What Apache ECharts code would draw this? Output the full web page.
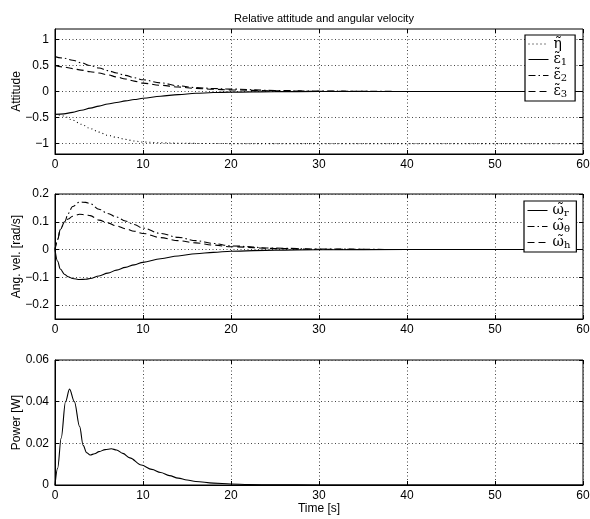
<!DOCTYPE html>
<html>
<head>
<meta charset="utf-8">
<script src="https://cdn.jsdelivr.net/npm/echarts@6/dist/echarts.min.js"></script>
<style>html,body{margin:0;padding:0;background:#fff}#c{width:590px;height:519px}</style>
</head>
<body>
<div id="c"></div>
<script>
// ---------- data ----------
const tAtt = [0,1,2,3,4,5,6,7,8,9,10,12,14,16,18,20,25,30,40,50,60];
const eta  = [-0.42,-0.47,-0.55,-0.63,-0.71,-0.78,-0.84,-0.88,-0.92,-0.95,-0.97,-0.985,-0.993,-0.997,-0.999,-1,-1,-1,-1,-1,-1];
const eps1 = [-0.44,-0.43,-0.40,-0.36,-0.32,-0.28,-0.24,-0.21,-0.18,-0.155,-0.13,-0.09,-0.06,-0.035,-0.02,-0.012,-0.003,-0.001,0,0,0];
const eps2 = [0.67,0.64,0.60,0.55,0.50,0.45,0.40,0.355,0.31,0.265,0.225,0.165,0.11,0.075,0.058,0.046,0.02,0.008,0.001,0,0];
const eps3 = [0.50,0.47,0.44,0.41,0.38,0.355,0.32,0.28,0.24,0.20,0.16,0.12,0.085,0.06,0.042,0.03,0.012,0.004,0,0,0];

const tVel = [0,0.3,0.6,1.1,1.5,2,2.8,3.5,4,5,6,7,8,9,10,12,14,16,18,20,25,30,40,60];
const wR   = [0,-0.042,-0.07,-0.09,-0.098,-0.104,-0.108,-0.107,-0.104,-0.095,-0.085,-0.074,-0.064,-0.055,-0.046,-0.033,-0.023,-0.015,-0.01,-0.006,-0.002,-0.0005,0,0];
const wTh  = [0,0.036,0.072,0.1,0.13,0.155,0.171,0.17,0.165,0.145,0.13,0.117,0.103,0.09,0.077,0.058,0.044,0.032,0.022,0.013,0.005,0.002,0,0];
const wH   = [0,0.036,0.072,0.1,0.11,0.12,0.127,0.125,0.122,0.106,0.096,0.085,0.075,0.066,0.058,0.043,0.032,0.024,0.016,0.01,0.004,0.001,0,0];

const tPow = [0,0.3,0.7,1.2,1.65,2.2,2.8,3.2,3.6,4.0,4.5,5.0,5.7,6.4,7.0,7.7,8.5,9.8,11,12,13,14,15,16,18,20,22,25,30,60];
const power= [0,0.008,0.0225,0.04,0.046,0.04,0.028,0.019,0.0155,0.0144,0.015,0.016,0.017,0.0174,0.0168,0.0152,0.013,0.0096,0.0075,0.006,0.0045,0.0033,0.0024,0.0017,0.0009,0.0005,0.0002,0.0001,0,0];

const xTicks  = [0,10,20,30,40,50,60];
const yTicks1 = [-1,-0.5,0,0.5,1];
const yTicks2 = [-0.2,-0.1,0,0.1,0.2];
const yTicks3 = [0,0.02,0.04,0.06];
const yRanges = [[-1.2,1.2],[-0.25,0.2],[0,0.06]];
const yNames  = ['Attitude','Ang. vel. [rad/s]','Power [W]'];

// ---------- build ----------
const pairs = (t, v) => t.map((x, i) => [x, v[i]]);
const FONT = 'Liberation Sans';
const gridTops = [29, 194, 360];
const grids = gridTops.map(t => ({left: 55, right: 7, top: t, height: 125, show: true, containLabel: false,
  outerBoundsMode: 'none', borderColor: '#000', borderWidth: 1, backgroundColor: 'transparent'}));
const fmt = v => String(v).replace('-', '\u2212');

const xAxis = [], yAxis = [];
const yTicksAll = [yTicks1, yTicks2, yTicks3];
for (let i = 0; i < 3; i++) {
  xAxis.push({type: 'value', gridIndex: i, min: 0, max: 60, position: 'bottom',
    axisLine: {show: true, onZero: false, lineStyle: {color: '#000'}},
    axisTick: {show: true, inside: true, length: 4, customValues: xTicks, lineStyle: {color: '#000'}},
    axisLabel: {show: true, margin: 5, customValues: xTicks, color: '#000', fontFamily: FONT, fontSize: 12},
    splitLine: {show: true, lineStyle: {type: [1, 2.5], color: '#444'}},
    name: i === 2 ? 'Time [s]' : '', nameLocation: 'middle', nameGap: 18, nameMoveOverlap: false,
    nameTextStyle: {color: '#000', fontFamily: FONT, fontSize: 12}});
  xAxis.push({type: 'value', gridIndex: i, min: 0, max: 60, position: 'top',
    axisLine: {show: false, onZero: false},
    axisTick: {show: true, inside: true, length: 4, customValues: xTicks, lineStyle: {color: '#000'}},
    axisLabel: {show: false, customValues: xTicks}, splitLine: {show: false}});
  const tv = yTicksAll[i];
  yAxis.push({type: 'value', gridIndex: i, min: yRanges[i][0], max: yRanges[i][1], position: 'left',
    axisLine: {show: true, onZero: false, lineStyle: {color: '#000'}},
    axisTick: {show: true, inside: true, length: 4, customValues: tv, lineStyle: {color: '#000'}},
    axisLabel: {show: true, margin: 6, customValues: tv, formatter: fmt, color: '#000', fontFamily: FONT, fontSize: 12},
    splitLine: {show: true, lineStyle: {type: [1, 2.5], color: '#444'}},
    name: yNames[i], nameLocation: 'middle', nameGap: 32, nameMoveOverlap: false,
    nameTextStyle: {color: '#000', fontFamily: FONT, fontSize: 12}});
  yAxis.push({type: 'value', gridIndex: i, min: yRanges[i][0], max: yRanges[i][1], position: 'right',
    axisLine: {show: false, onZero: false},
    axisTick: {show: true, inside: true, length: 4, customValues: tv, lineStyle: {color: '#000'}},
    axisLabel: {show: false, customValues: tv}, splitLine: {show: false}});
}

const line = (name, data, gi, type) => ({
  name, type: 'line', data, xAxisIndex: gi * 2, yAxisIndex: gi * 2, symbol: 'none',
  smooth: 0.35, smoothMonotone: 'x', silent: true, animation: false,
  lineStyle: {color: '#000', width: 1.1, type: type}, itemStyle: {color: '#000'}
});
const DOT = [1, 3], DASHDOT = [7, 3, 1.5, 3], DASH = [7, 4];

const labels = {
  eta: '{b|\u03b7\u0303}',
  eps1: '{b|\u03b5\u0303}{s|1}', eps2: '{b|\u03b5\u0303}{s|2}', eps3: '{b|\u03b5\u0303}{s|3}',
  wr: '{b|\u03c9\u0303}{s|r}', wth: '{b|\u03c9\u0303}{s|\u03b8}', wh: '{b|\u03c9\u0303}{s|h}'
};
const SERIF = 'DejaVu Serif';
const legendText = {
  color: '#000', fontFamily: SERIF, fontSize: 14,
  rich: {
    b: {fontFamily: SERIF, fontSize: 14, lineHeight: 14, color: '#000'},
    s: {fontFamily: SERIF, fontSize: 10, lineHeight: 9, color: '#000', padding: [5, 0, 0, 0]}
  }
};
const legBase = {orient: 'vertical', borderColor: '#000', borderWidth: 1.2, backgroundColor: '#fff',
  itemWidth: 20, itemGap: 1, selectedMode: false, formatter: n => labels[n],
  textStyle: legendText, itemStyle: {opacity: 0}, lineStyle: {width: 1}, inactiveColor: '#000'};

const option = {
  animation: false,
  backgroundColor: '#fff',
  title: {text: 'Relative attitude and angular velocity', left: 319, top: 8, textAlign: 'center',
    textStyle: {fontFamily: FONT, fontSize: 11, fontWeight: 'normal', color: '#000'}},
  grid: grids, xAxis, yAxis,
  legend: [
    Object.assign({}, legBase, {left: 525, top: 35, itemHeight: 14, padding: [2, 8, 2, 3],
      data: ['eta', 'eps1', 'eps2', 'eps3']}),
    Object.assign({}, legBase, {left: 524, top: 201, itemHeight: 14, padding: [2, 6, 2, 3],
      data: ['wr', 'wth', 'wh']})
  ],
  series: [
    line('eta', pairs(tAtt, eta), 0, DOT),
    line('eps1', pairs(tAtt, eps1), 0, 'solid'),
    line('eps2', pairs(tAtt, eps2), 0, DASHDOT),
    line('eps3', pairs(tAtt, eps3), 0, DASH),
    line('wr', pairs(tVel, wR), 1, 'solid'),
    line('wth', pairs(tVel, wTh), 1, DASHDOT),
    line('wh', pairs(tVel, wH), 1, DASH),
    line('power', pairs(tPow, power), 2, 'solid')
  ]
};
const chart = echarts.init(document.getElementById('c'), null, {renderer: 'canvas'});
chart.setOption(option);
</script>
</body>
</html>
